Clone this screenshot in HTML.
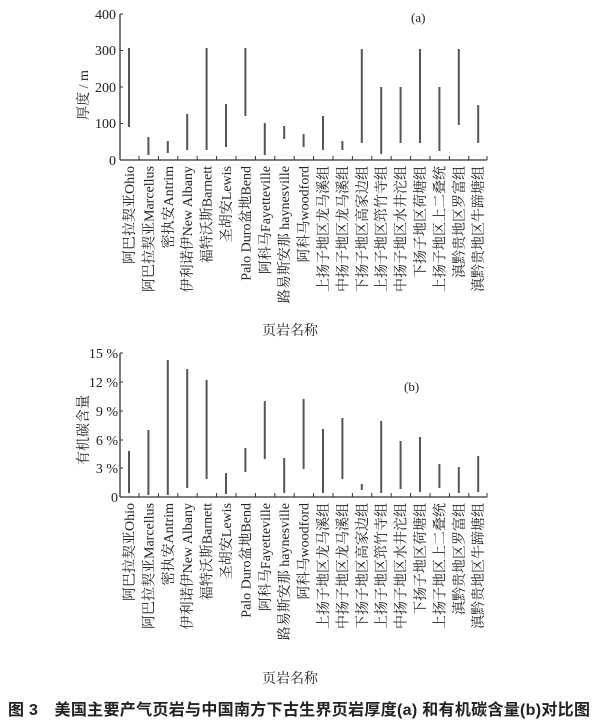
<!DOCTYPE html>
<html><head><meta charset="utf-8"><style>
body{margin:0;background:#fff}
svg text{font-family:"Liberation Serif","Noto Serif CJK SC",serif;fill:#222}
</style></head><body>
<svg width="600" height="720" xmlns="http://www.w3.org/2000/svg">
<g stroke="#333" stroke-width="1.3">
<line x1="120" y1="14" x2="120" y2="160"/><line x1="120" y1="160" x2="487" y2="160"/>
<line x1="120" y1="353" x2="120" y2="497"/><line x1="120" y1="497" x2="487" y2="497"/>
</g>
<g stroke="#333" stroke-width="1">
<path d="M139 160v-4M158.4 160v-4M177.8 160v-4M197.2 160v-4M216.6 160v-4M236 160v-4M255.4 160v-4M274.8 160v-4M294.2 160v-4M313.6 160v-4M333 160v-4M352.4 160v-4M371.8 160v-4M391.2 160v-4M410.6 160v-4M430 160v-4M449.4 160v-4M468.8 160v-4M487 160v-4"/>
<path d="M139 497v-4M158.4 497v-4M177.8 497v-4M197.2 497v-4M216.6 497v-4M236 497v-4M255.4 497v-4M274.8 497v-4M294.2 497v-4M313.6 497v-4M333 497v-4M352.4 497v-4M371.8 497v-4M391.2 497v-4M410.6 497v-4M430 497v-4M449.4 497v-4M468.8 497v-4M487 497v-4"/>
<path d="M120 14h3M120 50.5h3M120 87h3M120 123.5h3M120 353h3M120 382h3M120 411h3M120 440h3M120 468h3"/>
</g>
<g stroke="#555" stroke-width="2">
<path d="M129 48V127M148.4 137V155M167.8 141V153M187.2 114V150M206.6 48V150M226 104V147M245.4 48V116M264.8 123V155M284.2 126V139M303.6 134V147M323 116V150M342.4 141V150M361.8 49V143M381.2 87V154M400.6 87V143M420 49V143M439.4 87V151M458.8 49V125M478.2 105V143"/>
<path d="M129 451V493M148.4 430V495M167.8 360V495M187.2 369V488M206.6 380V479M226 473V494M245.4 448V472M264.8 401V459M284.2 458V493M303.6 399V469M323 429V493M342.4 418V479M361.8 484V490M381.2 421V493M400.6 441V489M420 437V492M439.4 464V488M458.8 467V493M478.2 456V492"/>
</g>
<g font-size="14" text-anchor="end">
<text x="116" y="19">400</text><text x="116" y="55">300</text><text x="116" y="92">200</text><text x="116" y="128">100</text><text x="116" y="165">0</text>
<text x="118" y="358">15 %</text><text x="118" y="387">12 %</text><text x="118" y="416">9 %</text><text x="118" y="445">6 %</text><text x="118" y="473">3 %</text><text x="118" y="502">0</text>
</g>
<text x="411" y="22" font-size="13">(a)</text>
<text x="404" y="391" font-size="13">(b)</text>
<text transform="translate(88,95) rotate(-90)" font-size="14" text-anchor="middle">厚度 / m</text>
<text transform="translate(88,430) rotate(-90)" font-size="14" text-anchor="middle">有机碳含量</text>
<g font-size="14" text-anchor="end">
<text transform="translate(134,166) rotate(-90)">阿巴拉契亚Ohio</text>
<text transform="translate(153.4,166) rotate(-90)">阿巴拉契亚Marcellus</text>
<text transform="translate(172.8,166) rotate(-90)">密执安Antrim</text>
<text transform="translate(192.2,166) rotate(-90)">伊利诺伊New Albany</text>
<text transform="translate(211.6,166) rotate(-90)">福特沃斯Barnett</text>
<text transform="translate(231,166) rotate(-90)">圣胡安Lewis</text>
<text transform="translate(250.4,166) rotate(-90)">Palo Duro盆地Bend</text>
<text transform="translate(269.8,166) rotate(-90)">阿科马Fayetteville</text>
<text transform="translate(289.2,166) rotate(-90)">路易斯安那 haynesville</text>
<text transform="translate(308.6,166) rotate(-90)">阿科马woodford</text>
<text transform="translate(328,166) rotate(-90)">上扬子地区龙马溪组</text>
<text transform="translate(347.4,166) rotate(-90)">中扬子地区龙马溪组</text>
<text transform="translate(366.8,166) rotate(-90)">下扬子地区高家边组</text>
<text transform="translate(386.2,166) rotate(-90)">上扬子地区筇竹寺组</text>
<text transform="translate(405.6,166) rotate(-90)">中扬子地区水井沱组</text>
<text transform="translate(425,166) rotate(-90)">下扬子地区荷塘组</text>
<text transform="translate(444.4,166) rotate(-90)">上扬子地区上二叠统</text>
<text transform="translate(463.8,166) rotate(-90)">滇黔贵地区罗富组</text>
<text transform="translate(483.2,166) rotate(-90)">滇黔贵地区牛蹄塘组</text>
</g>
<g font-size="14" text-anchor="end">
<text transform="translate(134,503) rotate(-90)">阿巴拉契亚Ohio</text>
<text transform="translate(153.4,503) rotate(-90)">阿巴拉契亚Marcellus</text>
<text transform="translate(172.8,503) rotate(-90)">密执安Antrim</text>
<text transform="translate(192.2,503) rotate(-90)">伊利诺伊New Albany</text>
<text transform="translate(211.6,503) rotate(-90)">福特沃斯Barnett</text>
<text transform="translate(231,503) rotate(-90)">圣胡安Lewis</text>
<text transform="translate(250.4,503) rotate(-90)">Palo Duro盆地Bend</text>
<text transform="translate(269.8,503) rotate(-90)">阿科马Fayetteville</text>
<text transform="translate(289.2,503) rotate(-90)">路易斯安那 haynesville</text>
<text transform="translate(308.6,503) rotate(-90)">阿科马woodford</text>
<text transform="translate(328,503) rotate(-90)">上扬子地区龙马溪组</text>
<text transform="translate(347.4,503) rotate(-90)">中扬子地区龙马溪组</text>
<text transform="translate(366.8,503) rotate(-90)">下扬子地区高家边组</text>
<text transform="translate(386.2,503) rotate(-90)">上扬子地区筇竹寺组</text>
<text transform="translate(405.6,503) rotate(-90)">中扬子地区水井沱组</text>
<text transform="translate(425,503) rotate(-90)">下扬子地区荷塘组</text>
<text transform="translate(444.4,503) rotate(-90)">上扬子地区上二叠统</text>
<text transform="translate(463.8,503) rotate(-90)">滇黔贵地区罗富组</text>
<text transform="translate(483.2,503) rotate(-90)">滇黔贵地区牛蹄塘组</text>
</g>
<text x="290" y="335" font-size="14" text-anchor="middle">页岩名称</text>
<text x="290" y="683" font-size="14" text-anchor="middle">页岩名称</text>
<text x="8" y="715" font-size="16" font-weight="bold" textLength="582" lengthAdjust="spacing" style="font-family:'Liberation Sans','Noto Sans CJK SC',sans-serif">图 3　美国主要产气页岩与中国南方下古生界页岩厚度(a) 和有机碳含量(b)对比图</text>
</svg>
</body></html>
